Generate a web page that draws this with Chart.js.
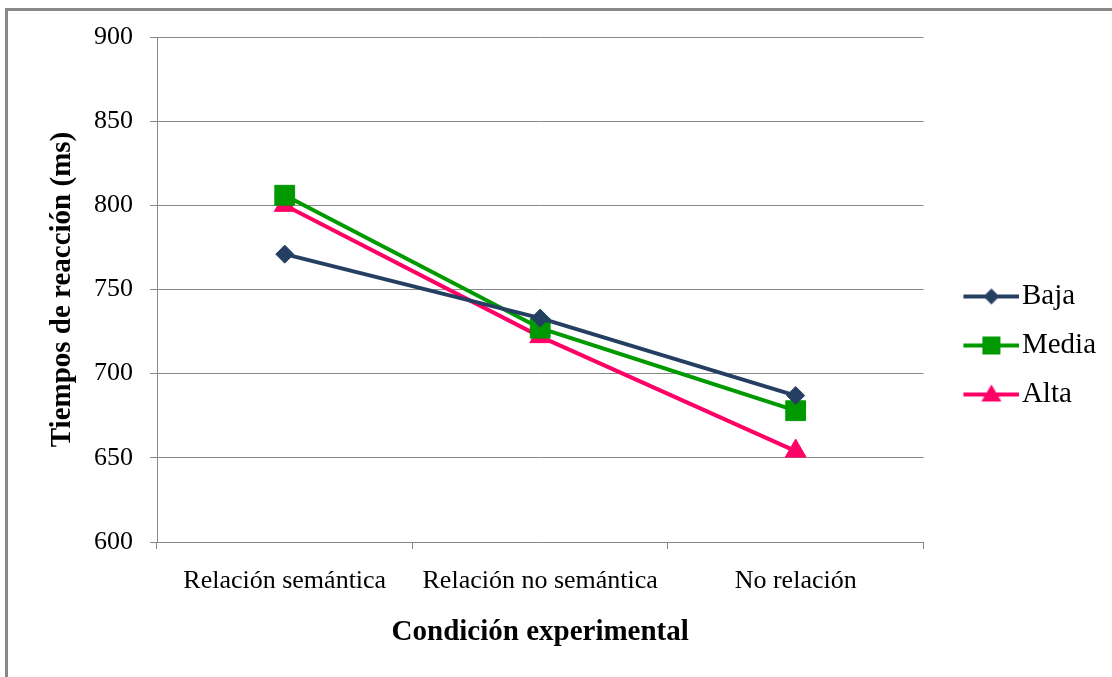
<!DOCTYPE html>
<html>
<head>
<meta charset="utf-8">
<script src="https://cdn.jsdelivr.net/npm/chart.js@4.4.0/dist/chart.umd.min.js"></script>
<style>
  html, body { margin: 0; padding: 0; background: #fff; overflow: hidden; }
  #wrap { position: relative; width: 1112px; height: 677px; }
  #frame { position: absolute; left: 5px; top: 8px; width: 1200px; height: 800px; border: 3px solid #888; }
  #myChart { position: absolute; left: 0; top: 0; }
</style>
</head>
<body>
<div id="wrap">
  <div id="frame"></div>
  <canvas id="myChart" width="1112" height="677"></canvas>
</div>
<script>
// 데이터
const condiciones = ['Relación semántica', 'Relación no semántica', 'No relación'];
const baja = [771, 733, 687];
const media = [806, 727, 678];
const alta = [800, 722, 654];
const yMin = 600;
const yMax = 900;
const yStep = 50;

const ctx = document.getElementById('myChart');
const serif = "'Liberation Serif', 'Times New Roman', serif";
const gridColor = '#888888';

// 범례용 아이콘 (선 + 마커)
function legendIcon(color, shape) {
  const c = document.createElement('canvas');
  c.width = 88;
  c.height = 26;
  const g = c.getContext('2d');
  g.strokeStyle = color;
  g.fillStyle = color;
  g.lineWidth = 4;
  g.beginPath();
  g.moveTo(32, 13);
  g.lineTo(88, 13);
  g.stroke();
  const cx = 60, cy = 13;
  g.beginPath();
  if (shape === 'diamond') {
    g.moveTo(cx, cy - 8); g.lineTo(cx + 8, cy); g.lineTo(cx, cy + 8); g.lineTo(cx - 8, cy);
  } else if (shape === 'square') {
    g.rect(cx - 9, cy - 9, 18, 18);
  } else {
    g.moveTo(cx, cy - 10); g.lineTo(cx + 10, cy + 7); g.lineTo(cx - 10, cy + 7);
  }
  g.closePath();
  g.fill();
  return c;
}

const series = [
  { label: 'Baja', data: baja, color: '#253F62', style: 'rectRot', radius: 9, icon: 'diamond' },
  { label: 'Media', data: media, color: '#009900', style: 'rect', radius: 14, icon: 'square' },
  { label: 'Alta', data: alta, color: '#FF0066', style: 'triangle', radius: 12, icon: 'triangle' },
];

const chart = new Chart(ctx, {
  type: 'line',
  data: {
    labels: condiciones,
    datasets: series.map(s => ({
      label: s.label,
      data: s.data,
      borderColor: s.color,
      backgroundColor: s.color,
      borderWidth: 4,
      tension: 0,
      fill: false,
      pointStyle: s.style,
      pointRadius: s.radius,
      pointHoverRadius: s.radius,
      pointBorderWidth: 1,
      pointBackgroundColor: s.color,
      pointBorderColor: s.color,
    })),
  },
  options: {
    responsive: false,
    devicePixelRatio: 1,
    animation: false,
    layout: { padding: { left: 41, right: 6, top: 37, bottom: 23 } },
    plugins: {
      tooltip: { enabled: false },
      legend: {
        position: 'right',
        labels: {
          usePointStyle: true,
          pointStyleWidth: 64,
          padding: 20,
          color: '#000',
          font: { family: serif, size: 29 },
          generateLabels: function (chart) {
            return series.map((s, i) => ({
              text: s.label,
              fillStyle: s.color,
              strokeStyle: s.color,
              lineWidth: 0,
              pointStyle: legendIcon(s.color, s.icon),
              hidden: false,
              datasetIndex: i,
            }));
          },
        },
      },
    },
    scales: {
      x: {
        offset: true,
        grid: {
          offset: true,
          drawOnChartArea: false,
          drawTicks: true,
          tickLength: 7,
          color: gridColor,
        },
        border: { color: gridColor, width: 1 },
        ticks: {
          color: '#000',
          padding: 17,
          maxRotation: 0,
          font: { family: serif, size: 26 },
        },
        title: {
          display: true,
          text: 'Condición experimental',
          color: '#000',
          font: { family: serif, size: 29, weight: 'bold' },
        },
        afterFit: function (scale) { scale.height = 112; },
      },
      y: {
        min: yMin,
        max: yMax,
        grid: { color: gridColor, tickLength: 7 },
        border: { color: gridColor, width: 1 },
        ticks: {
          stepSize: yStep,
          color: '#000',
          padding: 17,
          font: { family: serif, size: 26 },
        },
        title: {
          display: true,
          text: 'Tiempos de reacción (ms)',
          color: '#000',
          font: { family: serif, size: 29, weight: 'bold' },
        },
        afterFit: function (scale) { scale.width = 116; },
      },
    },
  },
});
</script>
</body>
</html>
